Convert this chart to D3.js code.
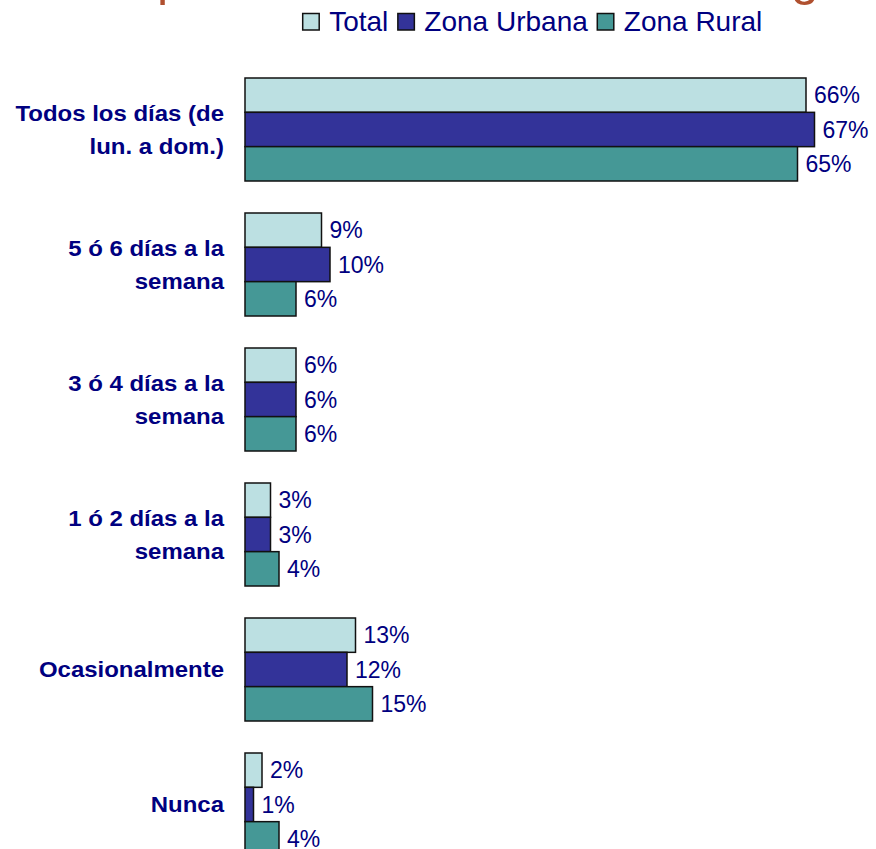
<!DOCTYPE html>
<html>
<head>
<meta charset="utf-8">
<title>Frecuencia de compra</title>
<style>
  body { margin: 0; background: #fff; }
  svg { display: block; font-family: "Liberation Sans", Arial, Helvetica, sans-serif; }
  .cat { font-weight: bold; font-size: 22.5px; fill: #000080; text-anchor: end; }
  .val { font-size: 23px; fill: #000080; }
  .leg { font-size: 28px; fill: #000080; }
  .bar { stroke: #111; stroke-width: 1.5; }
</style>
</head>
<body>
<svg width="876" height="849"></svg>
<script src="https://cdnjs.cloudflare.com/ajax/libs/d3/7.8.5/d3.min.js"></script>
<script>
// data
var categories = ["Todos los días (de\nlun. a dom.)", "5 ó 6 días a la\nsemana", "3 ó 4 días a la\nsemana",
                  "1 ó 2 días a la\nsemana", "Ocasionalmente", "Nunca"];
var seriesNames = ["Total", "Zona Urbana", "Zona Rural"];
var total  = [66, 9, 6, 3, 13, 2];
var urbana = [67, 10, 6, 3, 12, 1];
var rural  = [65, 6, 6, 4, 15, 4];
var colors = ["#bce0e2", "#333399", "#459896"];

var svg = d3.select("svg");

var values = [total, urbana, rural];
var rows = [];
categories.forEach(function(c, i) {
  seriesNames.forEach(function(s, j) {
    rows.push({cat: c, serie: s, v: values[j][i], j: j});
  });
});

var x = d3.scaleLinear().domain([0, 100]).range([245, 1095]);
var y0 = d3.scaleBand().domain(categories).range([62, 62 + 6 * 135])
    .paddingInner(32 / 135).paddingOuter(16 / 135);
var y1 = d3.scaleBand().domain(seriesNames).range([0, y0.bandwidth()]);

// title (cut off at the top edge, only descenders show)
var title = svg.append("text")
    .attr("y", -5)
    .style("font-size", "50px")
    .style("fill", "#b0502f")
    .text("Frecuencia de compra de leche fresca en el hogar");
var txt = title.text();
var ip = txt.indexOf("p"), ig = txt.lastIndexOf("g");
var node = title.node();
var gap = node.getStartPositionOfChar(ig).x - node.getStartPositionOfChar(ip).x;
var nsp = txt.slice(ip, ig).split(" ").length - 1;
title.style("word-spacing", ((634 - gap) / nsp) + "px");
title.attr("x", 157 - node.getStartPositionOfChar(ip).x);

// legend
var leg = svg.append("g");
var lx = 302.7;
seriesNames.forEach(function(s, j) {
  leg.append("rect").attr("x", lx).attr("y", 13.5).attr("width", 16.5).attr("height", 16.5)
      .attr("fill", colors[j]).attr("stroke", "#111").attr("stroke-width", 1.5);
  var t = leg.append("text").attr("class", "leg").attr("x", lx + 26.5).attr("y", 31).text(s);
  lx += 26.5 + t.node().getComputedTextLength() + 9.5;
});

// bars
var g = svg.append("g");
g.selectAll("rect.bar").data(rows).enter().append("rect")
    .attr("class", "bar")
    .attr("x", x(0))
    .attr("y", function(d) { return y0(d.cat) + y1(d.serie); })
    .attr("width", function(d) { return x(d.v) - x(0); })
    .attr("height", y1.bandwidth())
    .attr("fill", function(d) { return colors[d.j]; });

g.selectAll("text.val").data(rows).enter().append("text")
    .attr("class", "val")
    .attr("x", function(d) { return x(d.v) + 8; })
    .attr("y", function(d) { return y0(d.cat) + y1(d.serie) + y1.bandwidth() / 2 + 8; })
    .text(function(d) { return d.v + "%"; });

// category labels (slightly wide lettering, as in the original)
var labels = svg.append("g").attr("transform", "translate(224,0) scale(1.065,1)");
categories.forEach(function(c) {
  var lines = c.split("\n");
  var cy = y0(c) + y0.bandwidth() / 2;
  var t = labels.append("text").attr("class", "cat");
  lines.forEach(function(l, k) {
    t.append("tspan").attr("x", 0)
        .attr("y", cy + 8 + (k - (lines.length - 1) / 2) * 33)
        .text(l);
  });
});
</script>
</body>
</html>
